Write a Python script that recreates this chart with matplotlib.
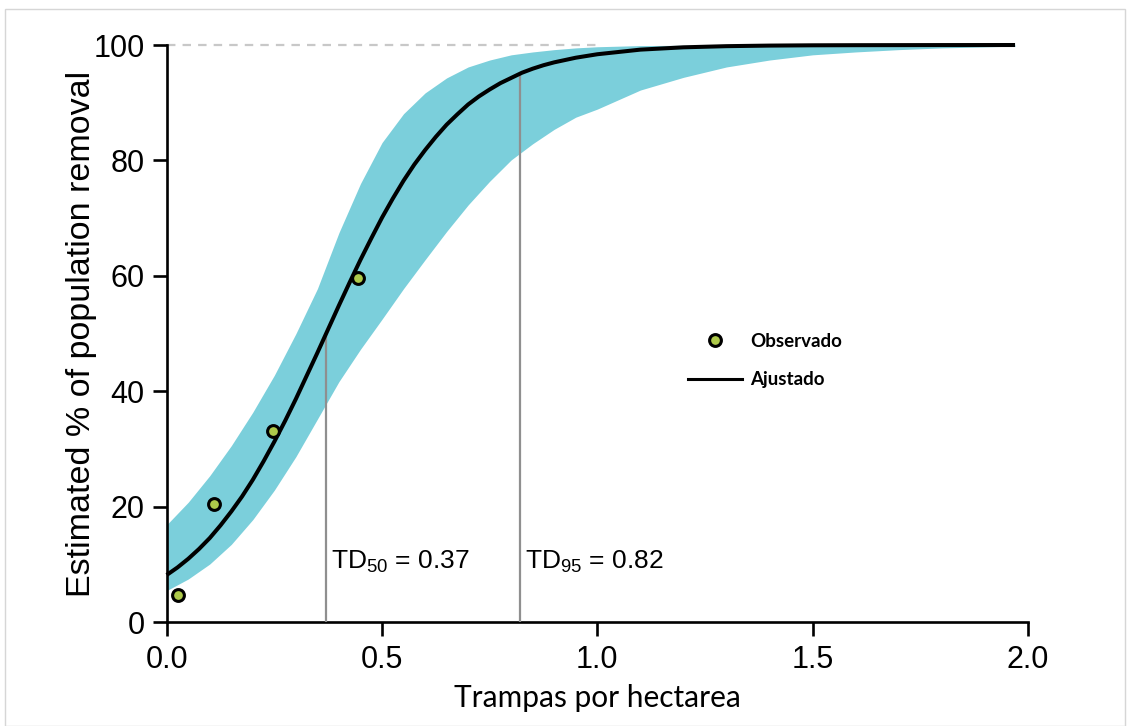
import matplotlib.pyplot as plt
from matplotlib.lines import Line2D
from matplotlib.patches import Rectangle

# Data
# observed points
obs_x = [0.027, 0.11, 0.248, 0.445]
obs_y = [4.7, 20.5, 33.2, 59.7]

# fitted curve (values read at each x)
fit_x = [0.0, 0.025, 0.05, 0.075, 0.10, 0.125, 0.15, 0.175, 0.20, 0.225, 0.25,
         0.275, 0.30, 0.325, 0.35, 0.375, 0.40, 0.425, 0.45, 0.475, 0.50, 0.525,
         0.55, 0.575, 0.60, 0.625, 0.65, 0.675, 0.70, 0.725, 0.75, 0.775, 0.80,
         0.825, 0.85, 0.875, 0.90, 0.925, 0.95, 0.975, 1.00, 1.05, 1.10, 1.15,
         1.20, 1.30, 1.40, 1.50, 1.60, 1.70, 1.80, 1.97]
fit_y = [8.2, 9.5, 11.0, 12.7, 14.6, 16.8, 19.2, 21.8, 24.7, 27.9, 31.3,
         34.9, 38.7, 42.7, 46.7, 50.8, 54.9, 58.9, 62.8, 66.5, 70.1, 73.4,
         76.5, 79.3, 81.8, 84.1, 86.2, 88.0, 89.7, 91.1, 92.3, 93.4, 94.3,
         95.2, 95.9, 96.5, 97.0, 97.4, 97.8, 98.1, 98.4, 98.8, 99.2, 99.4,
         99.6, 99.8, 99.9, 99.95, 99.97, 99.98, 99.99, 100.0]

# confidence band
band_x = [0.0, 0.05, 0.10, 0.15, 0.20, 0.25, 0.30, 0.35, 0.40, 0.45, 0.50, 0.55,
          0.60, 0.65, 0.70, 0.75, 0.80, 0.85, 0.90, 0.95, 1.00, 1.10, 1.20, 1.30,
          1.40, 1.50, 1.60, 1.70, 1.80, 1.97]
upper = [16.9, 20.8, 25.4, 30.6, 36.4, 42.8, 50.0, 57.8, 67.5, 76.0, 83.1, 88.1,
         91.7, 94.3, 96.2, 97.4, 98.3, 98.8, 99.2, 99.5, 99.7, 99.9, 99.95, 99.97,
         99.98, 99.99, 100.0, 100.0, 100.0, 100.0]
lower = [5.5, 7.5, 10.1, 13.5, 17.8, 22.9, 28.7, 35.2, 41.7, 47.3, 52.5, 57.8,
         62.8, 67.7, 72.3, 76.4, 80.1, 82.9, 85.4, 87.5, 88.9, 92.2, 94.4, 96.2,
         97.4, 98.3, 98.8, 99.2, 99.5, 99.8]

# TD50 / TD95
td_x = [0.37, 0.82]
td_y = [50, 95]
td_labels = [r'TD$_{50}$ = 0.37', r'TD$_{95}$ = 0.82']

plt.rcParams['font.family'] = ['Liberation Sans', 'DejaVu Sans']
plt.rcParams['mathtext.fontset'] = 'custom'
plt.rcParams['mathtext.rm'] = 'Liberation Sans'
plt.rcParams['mathtext.it'] = 'Liberation Sans:italic'

fig = plt.figure(figsize=(11.34, 7.26), dpi=100)
ax = fig.add_axes([0.147, 0.1428, 0.7595, 0.7952])

# light frame round the picture
fig.patches.append(Rectangle((0.004, 0.0), 0.988, 0.988, transform=fig.transFigure,
                             fill=False, edgecolor='#d6d6d6', linewidth=1))

ax.plot([0, 1.0], [100, 100], color='#c8c8c8', lw=1.6, dashes=(3.8, 3.2),
        zorder=1, clip_on=False)
ax.fill_between(band_x, lower, upper, color='#7bcfdb', linewidth=0, zorder=2)
ax.vlines(td_x, 0, td_y, color='#8f8f8f', lw=1.6, zorder=3)
ax.plot(fit_x, fit_y, color='black', lw=2.9, zorder=4, clip_on=False,
        solid_capstyle='butt', solid_joinstyle='round')
ax.plot(obs_x, obs_y, 'o', ms=8.5, mfc='#adc94a', mec='black', mew=2.2,
        zorder=5, clip_on=False, linestyle='none')

for x, lab in zip(td_x, td_labels):
    ax.text(x + 0.012, 9.2, lab, fontsize=19, ha='left', va='baseline')

ax.set_xlim(0, 2.0)
ax.set_ylim(0, 100)
ax.set_xticks([0.0, 0.5, 1.0, 1.5, 2.0])
ax.set_xticklabels(['0.0', '0.5', '1.0', '1.5', '2.0'])
ax.set_yticks([0, 20, 40, 60, 80, 100])

for s in ['top', 'right']:
    ax.spines[s].set_visible(False)
for s in ['left', 'bottom']:
    ax.spines[s].set_linewidth(1.9)
ax.tick_params(direction='out', length=10, width=1.9, labelsize=22, pad=6)

ax.set_ylabel('Estimated % of population removal', fontsize=24.5, labelpad=-3)
ax.set_xlabel('Trampas por hectarea', fontsize=21.5, family=['Lato', 'DejaVu Sans'],
              labelpad=7)

leg_handles = [Line2D([], [], marker='o', ms=8.5, mfc='#adc94a', mec='black', mew=2.2,
                      linestyle='none'),
               Line2D([], [], color='black', lw=2.2)]
ax.legend(leg_handles, ['Observado', 'Ajustado'], loc='upper left',
          bbox_to_anchor=(0.5917, 0.565), bbox_transform=fig.transFigure,
          frameon=False, handlelength=2.88, handletextpad=0.43, labelspacing=1.15,
          prop={'family': ['Lato', 'DejaVu Sans'], 'weight': 'bold', 'size': 13.5})

fig.savefig('out.png', dpi=100)
